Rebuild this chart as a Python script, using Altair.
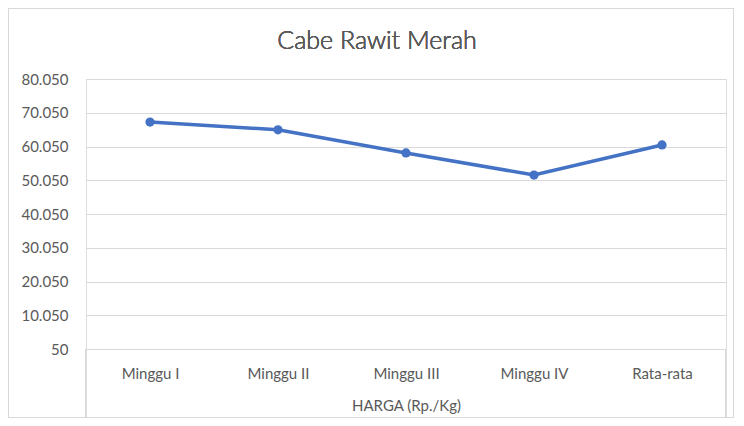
import altair as alt
import pandas as pd

categories = ["Minggu I", "Minggu II", "Minggu III", "Minggu IV", "Rata-rata"]
prices = [67300, 65000, 58150, 51600, 60510]
y_ticks = [50, 10050, 20050, 30050, 40050, 50050, 60050, 70050, 80050]
title_text = "Cabe Rawit Merah"
x_title = "HARGA (Rp./Kg)"

df = pd.DataFrame({"cat": categories, "price": prices})

FONT = "Lato"
GREY = "#595959"
GRID = "#d9d9d9"
BLUE = "#4472C4"

W, H = 640, 270

x_enc = alt.X(
    "cat:N",
    sort=categories,
    scale=alt.Scale(type="point", padding=0.5),
    axis=alt.Axis(
        title=x_title,
        labelAngle=0,
        labelFont=FONT,
        labelFontSize=15,
        labelColor=GREY,
        labelPadding=17,
        titleFont=FONT,
        titleFontSize=15,
        titleFontWeight="normal",
        titleColor=GREY,
        titlePadding=17,
        ticks=False,
        domainColor=GRID,
        domainWidth=1,
        grid=False,
    ),
)
y_enc = alt.Y(
    "price:Q",
    scale=alt.Scale(domain=[50, 80050], nice=False, zero=False),
    axis=alt.Axis(
        title=None,
        values=y_ticks,
        tickCount=20,
        labelExpr="replace(format(datum.value, ','), ',', '.')",
        labelOverlap=False,
        labelFont=FONT,
        labelFontSize=15,
        labelColor=GREY,
        labelPadding=18,
        ticks=False,
        domain=False,
        grid=True,
        gridColor=GRID,
        gridWidth=1,
    ),
)

line = alt.Chart(df).mark_line(color=BLUE, strokeWidth=3.5).encode(x=x_enc, y=y_enc)
pts = alt.Chart(df).mark_point(filled=True, color=BLUE, size=85, opacity=1).encode(
    x=alt.X("cat:N", sort=categories), y="price:Q"
)

sep_left = alt.Chart(df).mark_rule(color=GRID, strokeWidth=1).encode(
    x=alt.value(0), y=alt.value(H), y2=alt.value(H + 70)
)
sep_right = alt.Chart(df).mark_rule(color=GRID, strokeWidth=1).encode(
    x=alt.value(W), y=alt.value(H), y2=alt.value(H + 70)
)

frame = alt.Chart(df).mark_rect(fill=None, stroke=GRID, strokeWidth=1).encode(
    x=alt.value(-77.5), x2=alt.value(W + 7.5), y=alt.value(-70.5), y2=alt.value(H + 68.5)
)

title = alt.Chart(df).mark_text(
    font=FONT, fontSize=25, fontWeight=300, color=GREY, baseline="middle", align="center"
).encode(x=alt.value(291), y=alt.value(-38), text=alt.value(title_text))

chart = alt.layer(frame, line, pts, sep_left, sep_right, title).properties(
    width=W,
    height=H,
    padding={"left": 78, "top": 71, "right": 8, "bottom": 69},
    autosize=alt.AutoSizeParams(type="none"),
).configure_view(stroke=None).configure(background="white")

chart.save("out.html", embed_options={"renderer": "svg", "actions": False})
